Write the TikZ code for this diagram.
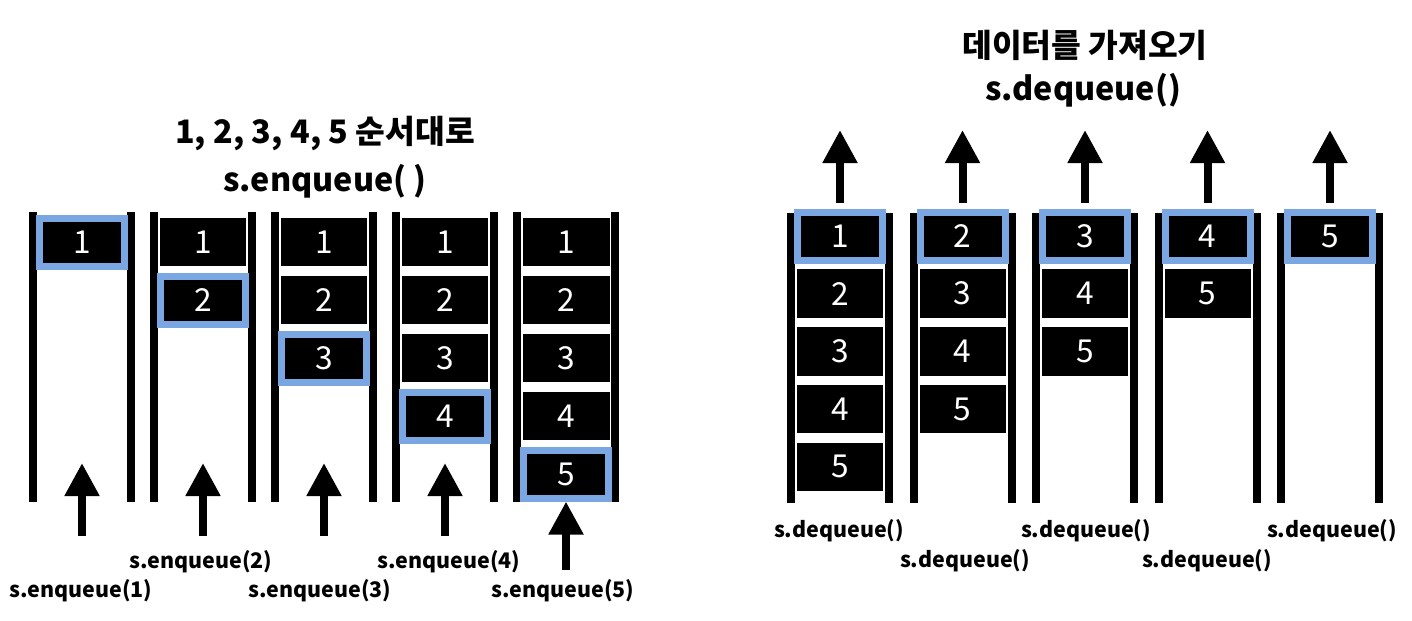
\documentclass[tikz,border=0pt]{standalone}
\usepackage{fontspec}
\setmainfont{Noto Sans CJK KR}
\usetikzlibrary{arrows.meta}

\definecolor{qblue}{RGB}{122,167,226}

\tikzset{
  wall/.style={line width=0.16cm},
  cell/.style={fill=black, text=white, inner sep=0pt,
    minimum width=1.74cm, minimum height=0.97cm,
    font=\fontsize{18}{18}\selectfont},
  newcell/.style={cell, draw=qblue, line width=0.14cm,
    minimum width=1.70cm, minimum height=0.96cm},
  bigarrow/.style={line width=0.16cm, -{Triangle[width=0.66cm, length=0.66cm]}},
  oplabel/.style={anchor=base, font=\bfseries\fontsize{12.2}{12.2}\selectfont},
  title/.style={anchor=base, font=\bfseries\fontsize{18.4}{18.4}\selectfont}
}

\begin{document}
\begin{tikzpicture}[x=0.02cm, y=-0.02cm]
    % Parameters (1 unit = 1 pixel of the sketch, y grows downwards)
    \def\numitems{5} % Number of values put in the queue
    \def\stackw{98} % Distance between the two walls of a queue
    \def\rowgap{58} % Distance between two cells
    \useasboundingbox (0,0) rectangle (1412,620);

    % Left half: enqueue
    \node[title] (enqtitle) at (325,143) {1, 2, 3, 4, 5 순서대로};
    \node[title] (enqcall) at (325,191) {s.enqueue( )};

    \foreach \i in {1,...,\numitems} {
        \pgfmathsetmacro{\xl}{33+(\i-1)*121}
        \pgfmathsetmacro{\xm}{\xl+0.5*\stackw}
        \draw[wall] (\xl,212) -- (\xl,502);
        \draw[wall] (\xl+\stackw,212) -- (\xl+\stackw,502);
        % cells of the queue, the last one was just added
        \foreach \j in {1,...,\i} {
            \pgfmathsetmacro{\ym}{242+(\j-1)*\rowgap}
            \ifnum\j=\i
                \node[newcell] (e\i-\j) at (\xm,\ym) {\j};
            \else
                \node[cell] (e\i-\j) at (\xm,\ym) {\j};
            \fi
        }
    }

    % Arrows and calls below the queues
    \foreach \i/\lx/\ly in {1/81/597, 2/201/568, 3/320/597, 4/449/568} {
        \pgfmathsetmacro{\xm}{33+(\i-1)*121+0.5*\stackw}
        \coordinate (etail\i) at (\xm,536);
        \coordinate (etip\i) at (\xm,463);
        \draw[bigarrow] (etail\i) -- (etip\i);
        \node[oplabel] (elabel\i) at (\lx,\ly) {s.enqueue(\i)};
    }
    \coordinate (etail5) at (566,570);
    \draw[bigarrow] (etail5) -- (e5-5.south);
    \node[oplabel] (elabel5) at (563,597) {s.enqueue(5)};

    % Right half: dequeue
    \node[title] (deqtitle) at (1085,57) {데이터를 가져오기};
    \node[title] (deqcall) at (1083,100) {s.dequeue()};

    \foreach \i in {1,...,\numitems} {
        \pgfmathsetmacro{\xl}{791+(\i-1)*122.5}
        \pgfmathsetmacro{\xm}{\xl+0.5*\stackw}
        \draw[wall] (\xl,213) -- (\xl,503);
        \draw[wall] (\xl+\stackw,213) -- (\xl+\stackw,503);
        % cells still in the queue, the first one leaves
        \foreach \j in {\i,...,\numitems} {
            \pgfmathsetmacro{\ym}{236+(\j-\i)*57.7}
            \ifnum\j=\i
                \node[newcell] (d\i-\j) at (\xm,\ym) {\j};
            \else
                \node[cell, minimum width=1.72cm] (d\i-\j) at (\xm,\ym) {\j};
            \fi
        }
        \coordinate (dtail\i) at (\xm,203);
        \coordinate (dtip\i) at (\xm,130);
        \draw[bigarrow] (dtail\i) -- (dtip\i);
    }

    % Calls below the queues
    \foreach \i/\lx/\ly in {1/839/537, 2/965/567, 3/1086/537, 4/1207/567, 5/1332/537} {
        \node[oplabel] (dlabel\i) at (\lx,\ly) {s.dequeue()};
    }
\end{tikzpicture}
\end{document}
